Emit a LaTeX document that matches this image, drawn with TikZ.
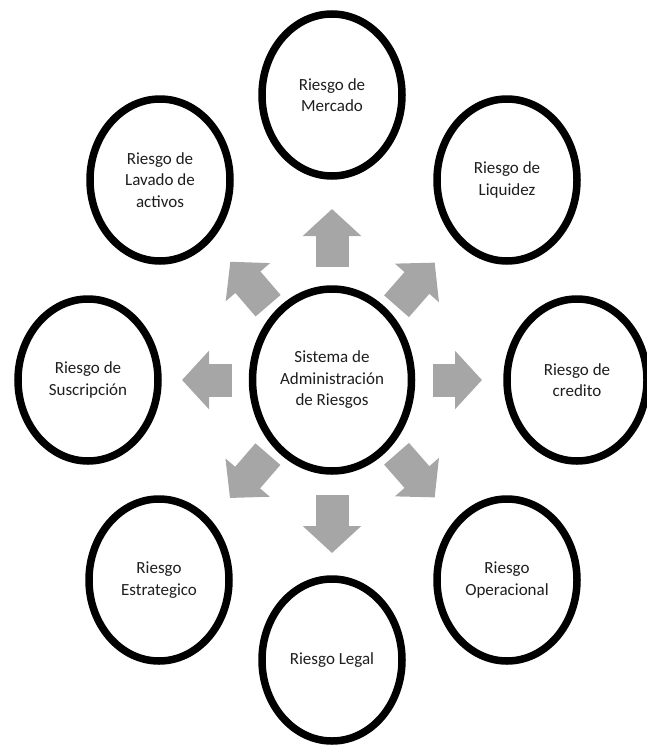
\documentclass[tikz,border=0pt]{standalone}
\usepackage{fontspec}
\setmainfont{Carlito}
\usetikzlibrary{arrows.meta,shapes.geometric,positioning,calc}
\definecolor{grisflecha}{RGB}{166,166,166}
\definecolor{texto}{RGB}{30,30,30}

\begin{document}
\begin{tikzpicture}[x=1pt,y=1pt,on grid,>={Triangle[width=57pt,length=27pt]}]
		\tikzstyle{riesgo}=[ellipse, draw=black, line width=7.5pt, fill=white, minimum width=140pt, minimum height=162pt, inner sep=0pt, align=center, text=texto, font=\fontsize{17pt}{21.5pt}\selectfont]
		\tikzstyle{sistema}=[riesgo, minimum width=159pt, minimum height=182pt]
		\tikzstyle{flecha}=[->, draw=grisflecha, line width=33pt]

		\useasboundingbox (0,0) rectangle (647,-747);

		\node [sistema] (sar) at (332,-380) {Sistema de\\Administración\\de Riesgos};

		\node [riesgo] (mercado) [above=285pt of sar] {Riesgo de\\Mercado};

		\node [riesgo] (liquidez) [above right=200pt and 175pt of sar] {Riesgo de\\Liquidez};

		\node [riesgo] (credito) [right=245pt of sar] {Riesgo de\\credito};

		\node [riesgo] (operacional) [below right=200pt and 175pt of sar] {Riesgo\\Operacional};

		\node [riesgo] (legal) [below=280pt of sar] {Riesgo Legal};

		\node [riesgo] (estrategico) [below left=200pt and 173pt of sar] {Riesgo\\Estrategico};

		\node [riesgo] (suscripcion) [left=244pt of sar] {Riesgo de\\Suscripción};

		\node [riesgo] (lavado) [above left=200pt and 172pt of sar] {Riesgo de\\Lavado de\\activos};

		\foreach \dest/\ini/\fin in {mercado/113pt/171pt, liquidez/98pt/156pt, credito/101pt/150pt, operacional/98pt/156pt, legal/115pt/173pt, estrategico/98pt/156pt, suscripcion/100pt/150pt, lavado/98pt/156pt}
			\draw [flecha] ($(sar)!\ini!(\dest)$) -- ($(sar)!\fin!(\dest)$);
	\end{tikzpicture}
\end{document}
